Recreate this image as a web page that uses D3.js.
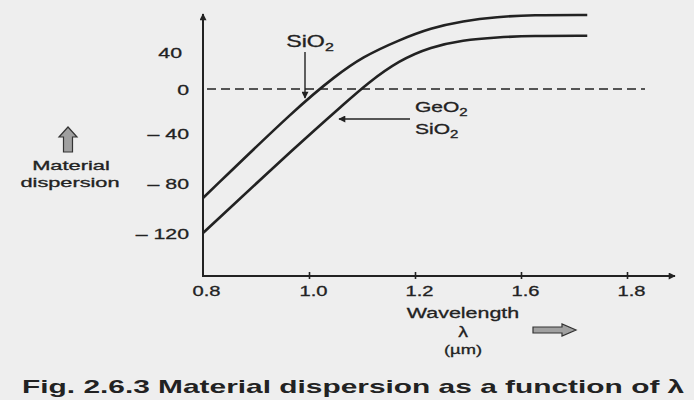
<!DOCTYPE html>
<html>
<head>
<meta charset="utf-8">
<script src="https://cdn.jsdelivr.net/npm/d3@7"></script>
<style>
  body { margin: 0; background: #eeeeee; }
  svg { display: block; font-family: "Liberation Sans", Arial, sans-serif; }
</style>
</head>
<body>
<div id="chart"></div>
<script>
// tick positions and the labels printed under / beside them
const xTicks = [0.8, 1.0, 1.2, 1.6, 1.8];
const xTickLabels = ["0.8", "1.0", "1.2", "1.6", "1.8"];
const yTicks = [40, 0, -40, -80, -120];
const yTickLabels = ["40", "0", "\u2013 40", "\u2013 80", "\u2013 120"];

// SiO2 fibre (upper curve)
const wavelengthSiO2 = [0.80, 0.98, 1.05, 1.10, 1.17, 1.26, 1.38, 1.51, 1.62, 1.725];
const dispersionSiO2 = [-92, -15.5, 14, 34.5, 53, 66, 73.5, 78, 80, 80];
// GeO2 doped SiO2 fibre (lower curve)
const wavelengthGeO2 = [0.80, 0.98, 1.07, 1.11, 1.17, 1.26, 1.38, 1.51, 1.62, 1.725];
const dispersionGeO2 = [-120, -49, -12, 6, 31, 45.5, 53, 56, 57.5, 57.5];

const width = 694, height = 400;
const ink = '#222';

const svg = d3.select('#chart').append('svg')
    .attr('width', width)
    .attr('height', height);

svg.append('rect').attr('width', width).attr('height', height).attr('fill', '#eeeeee');

// the printed axes are not evenly graduated, so both scales are piecewise
const x = d3.scaleLinear().domain(xTicks).range([203, 309, 415, 521, 627]);
const y = d3.scaleLinear().domain([-120, -80, -40, 0, 40]).range([233, 183, 133, 89, 52]);
const x0 = 203, y0 = 276;

const defs = svg.append('defs');
defs.append('marker')
    .attr('id', 'head')
    .attr('viewBox', '0 0 10 10')
    .attr('refX', 9).attr('refY', 5)
    .attr('markerWidth', 10).attr('markerHeight', 7)
    .attr('markerUnits', 'userSpaceOnUse')
    .attr('orient', 'auto')
    .append('path')
    .attr('d', 'M0,0 L10,5 L0,10 Z')
    .attr('fill', ink);

// text stretched sideways like the scanned print
function label(parent, px, py, str, size, sx, anchor, weight) {
    const g = parent.append('g')
        .attr('transform', 'translate(' + px + ',' + py + ') scale(' + sx + ',1)');
    return g.append('text')
        .attr('text-anchor', anchor || 'start')
        .attr('font-size', size)
        .attr('font-weight', weight || 'normal')
        .attr('fill', ink)
        .attr('stroke', ink)
        .attr('stroke-width', weight === 'bold' ? 0 : 0.3)
        .text(str);
}

// zero line
svg.append('line')
    .attr('x1', x(0.8) + 4).attr('x2', x(1.8) + 18)
    .attr('y1', y(0)).attr('y2', y(0))
    .attr('stroke', ink)
    .attr('stroke-width', 1.6)
    .attr('stroke-dasharray', '9,5');

// axes lines with arrows
svg.append('line')
    .attr('x1', x0).attr('y1', y0).attr('x2', x0).attr('y2', 14)
    .attr('stroke', ink).attr('stroke-width', 2)
    .attr('marker-end', 'url(#head)');
svg.append('line')
    .attr('x1', x0 - 1).attr('y1', y0).attr('x2', 675).attr('y2', y0)
    .attr('stroke', ink).attr('stroke-width', 2)
    .attr('marker-end', 'url(#head)');

// x axis ticks and labels
const sxTick = 1.44;
const xAxis = svg.append('g')
    .attr('transform', 'translate(0,' + y0 + ')')
    .call(d3.axisBottom(x).tickValues(xTicks)
        .tickFormat((d, i) => xTickLabels[i])
        .tickSize(0));
xAxis.select('.domain').remove();
xAxis.selectAll('.tick line')
    .attr('y1', -4).attr('y2', 3)
    .attr('stroke', ink).attr('stroke-width', 1.6)
    .attr('display', d => d === 0.8 ? 'none' : null);
xAxis.selectAll('.tick text')
    .attr('font-family', '"Liberation Sans", Arial, sans-serif')
    .attr('font-size', 14)
    .attr('fill', ink)
    .attr('stroke', ink)
    .attr('stroke-width', 0.3)
    .attr('dy', null)
    .attr('y', 20)
    .attr('x', d => (d === 0.8 ? 3 : 4) / sxTick)
    .attr('transform', 'scale(' + sxTick + ',1)');

// y axis labels
const sxY = 1.42;
const yAxis = svg.append('g')
    .attr('transform', 'translate(' + x0 + ',0)')
    .call(d3.axisLeft(y).tickValues(yTicks)
        .tickFormat((d, i) => yTickLabels[i])
        .tickSize(0));
yAxis.select('.domain').remove();
yAxis.selectAll('.tick line').remove();
yAxis.selectAll('.tick text')
    .attr('font-family', '"Liberation Sans", Arial, sans-serif')
    .attr('font-size', 15)
    .attr('fill', ink)
    .attr('stroke', ink)
    .attr('stroke-width', 0.3)
    .attr('dy', null)
    .attr('y', 5)
    .attr('x', d => (d === 40 ? -21 : -14) / sxY)
    .attr('transform', 'scale(' + sxY + ',1)');

// curves
const line = d3.line()
    .x(d => x(d[0]))
    .y(d => y(d[1]))
    .curve(d3.curveBasis);

const curves = [
    d3.zip(wavelengthSiO2, dispersionSiO2),
    d3.zip(wavelengthGeO2, dispersionGeO2)
];
svg.append('g')
    .selectAll('path')
    .data(curves).enter()
    .append('path')
    .attr('d', line)
    .attr('fill', 'none')
    .attr('stroke', ink)
    .attr('stroke-width', 2.6);

// SiO2 pointer
const t1 = label(svg, 310, 47, 'SiO', 16, 1.45, 'middle');
t1.append('tspan').attr('font-size', 11).attr('dy', 4).text('2');
svg.append('line')
    .attr('x1', 305).attr('y1', 52).attr('x2', 305).attr('y2', 98)
    .attr('stroke', ink).attr('stroke-width', 1.4)
    .attr('marker-end', 'url(#head)');

// GeO2 / SiO2 pointer
const t2 = label(svg, 415, 112, 'GeO', 14, 1.5);
t2.append('tspan').attr('font-size', 10).attr('dy', 4).text('2');
const t3 = label(svg, 415, 134, 'SiO', 14, 1.5);
t3.append('tspan').attr('font-size', 10).attr('dy', 4).text('2');
svg.append('line')
    .attr('x1', 410).attr('y1', 119).attr('x2', 339).attr('y2', 119)
    .attr('stroke', ink).attr('stroke-width', 1.4)
    .attr('marker-end', 'url(#head)');

// y axis title with block arrow
svg.append('path')
    .attr('d', 'M68,127 L77,137 L72.5,137 L72.5,152 L63.5,152 L63.5,137 L59,137 Z')
    .attr('fill', '#a0a0a0')
    .attr('stroke', '#333')
    .attr('stroke-width', 1.2);
label(svg, 71, 170, 'Material', 12.5, 1.75, 'middle');
label(svg, 70, 187, 'dispersion', 12.5, 1.74, 'middle');

// x axis title with block arrow
label(svg, 463, 318, 'Wavelength', 15, 1.43, 'middle');
label(svg, 463, 337, '\u03bb', 15, 1.3, 'middle');
label(svg, 463, 354, '(\u00b5m)', 13, 1.41, 'middle');
svg.append('path')
    .attr('d', 'M533,327 L562,327 L562,324 L576,330 L562,336 L562,333 L533,333 Z')
    .attr('fill', '#a0a0a0')
    .attr('stroke', '#333')
    .attr('stroke-width', 1.2);

// caption
label(svg, 22, 393, 'Fig. 2.6.3 Material dispersion as a function of \u03bb', 18, 1.66, 'start', 'bold');
</script>
</body>
</html>
